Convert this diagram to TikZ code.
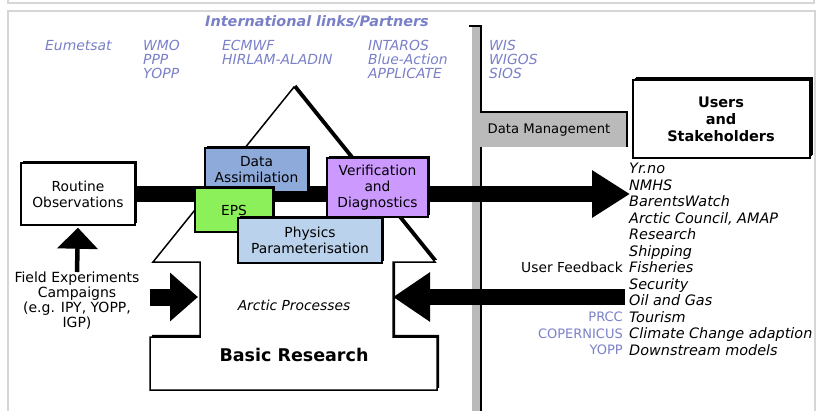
\documentclass[tikz,border=0pt]{standalone}
\usepackage{fontspec}
\setmainfont{DejaVu Sans}
\usetikzlibrary{arrows.meta,shadows}

\definecolor{linkblue}{RGB}{122,128,200}
\definecolor{dacol}{RGB}{142,170,218}
\definecolor{epscol}{RGB}{140,240,90}
\definecolor{vdcol}{RGB}{204,153,255}
\definecolor{ppcol}{RGB}{186,210,236}
\definecolor{framecol}{RGB}{214,214,214}
\definecolor{dmcol}{RGB}{186,186,186}

\tikzset{
  shade/.style={drop shadow={shadow xshift=#1,shadow yshift=#1,opacity=1,fill=black}},
  shade/.default=2.2pt,
  box/.style={draw,line width=1.5pt,shade,align=center,inner sep=0pt,
    font=\fontsize{13.8}{16}\selectfont},
  partner/.style={text=linkblue,anchor=north west,inner sep=0pt,align=left,
    font=\fontsize{13.9}{14}\selectfont\itshape},
}

\begin{document}
\begin{tikzpicture}[x=1pt,y=-1pt]
  \useasboundingbox (0,0) rectangle (826,410);

  % page frame
  \draw[framecol,line width=2pt] (8,-10) rectangle (814,3);
  \draw[framecol,line width=2pt] (8,420) -- (8,11) -- (815,11) -- (815,420);

  % data management bar
  \fill[dmcol] (472,26) rectangle (480,412);
  \draw[line width=2pt] (469,26) -- (481,26) -- (481,412);
  \draw[line width=2pt] (481,112) -- (627,112) -- (627,147);
  \node[fill=dmcol,minimum width=154pt,minimum height=34pt,inner sep=0pt,
    font=\fontsize{13.2}{15}\selectfont] (dm) at (549,130) {Data Management};

  % the house
  \draw[line width=1.5pt,fill=white,shade] (294,87) -- (153,262) -- (200,262)
    -- (200,337) -- (150,337) -- (150,390) -- (437,390) -- (437,337)
    -- (393,337) -- (393,262) -- (435,262) -- cycle;
  \node[font=\fontsize{13.8}{16}\selectfont\itshape] (ap) at (294,305) {Arctic Processes};
  \node[font=\fontsize{17.5}{20}\selectfont\bfseries] (br) at (294,355) {Basic Research};
  \coordinate (notchL) at (198,297);
  \coordinate (notchR) at (393,297);

  % left side
  \node[box,fill=white,minimum width=114pt,minimum height=62pt] (ro) at (78,194)
    {Routine\\Observations};
  \node[align=center,anchor=north,inner sep=0pt,font=\fontsize{14}{15}\selectfont]
    (field) at (77,272) {Field Experiments\\Campaigns\\(e.g. IPY, YOPP,\\IGP)};
  \coordinate (fieldin) at (150,297);

  % users
  \node[box,fill=white,line width=2pt,shade=3pt,minimum width=177pt,minimum height=78pt,
    font=\fontsize{14.5}{17}\selectfont\bfseries] (users) at (721,119)
    {Users\\and\\Stakeholders};
  \coordinate (usrtip) at (630,194);
  \coordinate (fbstart) at (625,297);

  % arrows
  \draw[line width=4.5pt,-{Triangle[length=21pt,width=40pt]},shorten >=2pt]
    (field.north) -- (ro.south);
  \draw[line width=16pt,-{Triangle[length=38pt,width=45pt]}] (ro.east) -- (usrtip);
  \draw[line width=17pt,-{Triangle[length=28pt,width=47pt]}] (fieldin) -- (notchL);
  \draw[line width=16pt,-{Triangle[length=37pt,width=47pt]}] (fbstart) -- (notchR);

  % model components
  \node[box,fill=dacol,minimum width=103pt,minimum height=44pt] (da) at (256.5,170)
    {Data\\Assimilation};
  \node[box,fill=vdcol,minimum width=101pt,minimum height=59pt] (vd) at (377.5,187.5)
    {Verification\\and\\Diagnostics};
  \node[box,fill=epscol,minimum width=78pt,minimum height=44pt] (eps) at (234,210)
    {EPS};
  \node[box,fill=ppcol,minimum width=144pt,minimum height=45pt] (pp) at (310,240.5)
    {Physics\\Parameterisation};

  % partners
  \node[text=linkblue,anchor=base,inner sep=0pt,
    font=\fontsize{14.4}{16}\selectfont\bfseries\itshape] (links) at (317,26)
    {International links/Partners};
  \node[partner] (eum) at (45,40) {Eumetsat};
  \node[partner] (wmo) at (143,40) {WMO\\PPP\\YOPP};
  \node[partner] (ecm) at (222,40) {ECMWF\\HIRLAM-ALADIN};
  \node[partner] (int) at (368,40) {INTAROS\\Blue-Action\\APPLICATE};
  \node[partner] (wis) at (489,40) {WIS\\WIGOS\\SIOS};

  % user list
  \node[anchor=north west,inner sep=0pt,align=left,
    font=\fontsize{14.4}{16.5}\selectfont\itshape] (list) at (629,163)
    {Yr.no\\NMHS\\BarentsWatch\\Arctic Council, AMAP\\Research\\Shipping\\
     Fisheries\\Security\\Oil and Gas\\Tourism\\Climate Change adaption\\
     Downstream models};
  \node[anchor=base east,inner sep=0pt,font=\fontsize{13.8}{16}\selectfont]
    (fb) at (623,272) {User Feedback};
  \node[anchor=north east,inner sep=0pt,align=right,text=linkblue,
    font=\fontsize{13}{16.5}\selectfont] (prcc) at (623,312)
    {PRCC\\COPERNICUS\\YOPP};
\end{tikzpicture}
\end{document}
